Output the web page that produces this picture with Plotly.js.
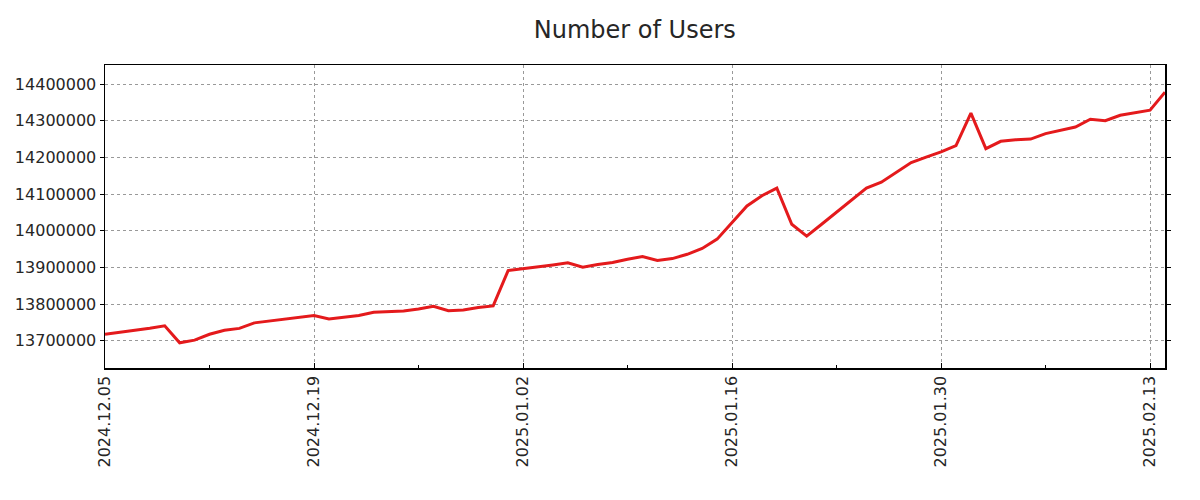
<!DOCTYPE html>
<html>
<head>
<meta charset="utf-8">
<script src="https://cdn.plot.ly/plotly-3.0.1.min.js"></script>
<style>html,body{margin:0;padding:0;background:#fff}#chart{width:1200px;height:500px}</style>
</head>
<body>
<div id="chart"></div>
<script>
const startDate = '2024-12-05';
const users = [
  13718000, 13723000, 13729000, 13734500, 13741000, 13694600, 13702000, 13718000,
  13729000, 13734000, 13749000, 13753500, 13759000, 13764400, 13769000, 13759800,
  13764000, 13769000, 13778000, 13780800, 13781600, 13787000, 13794500, 13782400,
  13784300, 13790700, 13795300, 13891500, 13896000, 13902500, 13907000, 13912600,
  13900500, 13908000, 13913400, 13922500, 13929700, 13919000, 13924300, 13936000,
  13952000, 13977300, 14024000, 14067600, 14095500, 14116200, 14017800, 13985600,
  14017800, 14051300, 14084600, 14116200, 14132400, 14160000, 14186000, 14201000,
  14215000, 14232000, 14321000, 14224000, 14244000, 14248000, 14250000, 14265000,
  14275000, 14283000, 14304000, 14300000, 14315000, 14322000, 14329000, 14378000
];

function addDays(s, n) {
  const d = new Date(s + 'T00:00:00Z');
  d.setUTCDate(d.getUTCDate() + n);
  return d.toISOString().slice(0, 10);
}
const dates = users.map((_, i) => addDays(startDate, i));

const trace = {
  x: dates, y: users, type: 'scatter', mode: 'lines',
  line: {color: '#e41a1c', width: 3}, hoverinfo: 'x+y'
};

const font = {family: 'DejaVu Sans, sans-serif', size: 16, color: '#262626'};
const layout = {
  width: 1200, height: 500,
  margin: {l: 105, r: 35, t: 65, b: 132},
  paper_bgcolor: '#fff', plot_bgcolor: '#fff',
  font: font,
  showlegend: false,
  title: {text: 'Number of Users', x: 0.529, xanchor: 'center', y: 0.94, yanchor: 'middle',
          font: {family: 'DejaVu Sans, sans-serif', size: 24, color: '#262626'}},
  xaxis: {
    type: 'date', range: [dates[0], dates[dates.length - 1]],
    tick0: startDate, dtick: 14 * 86400000, tickformat: '%Y.%m.%d', tickangle: -90,
    showgrid: true, gridcolor: '#999', griddash: 'dot', gridwidth: 1,
    showline: true, linecolor: '#000', linewidth: 1.5, mirror: true,
    ticks: 'inside', ticklen: 5, tickcolor: '#000',
    minor: {dtick: 7 * 86400000, tick0: startDate, ticks: 'inside', ticklen: 3, tickcolor: '#000', showgrid: false},
    zeroline: false, tickfont: font
  },
  yaxis: {
    range: [13626000, 14452000], dtick: 100000, tick0: 13700000, tickformat: 'd',
    showgrid: true, gridcolor: '#999', griddash: 'dot', gridwidth: 1,
    showline: true, linecolor: '#000', linewidth: 1.5, mirror: 'ticks',
    ticks: 'outside', ticklen: 4, tickcolor: '#000',
    zeroline: false, tickfont: font
  }
};

Plotly.newPlot('chart', [trace], layout, {displayModeBar: false, staticPlot: true});
</script>
</body>
</html>
